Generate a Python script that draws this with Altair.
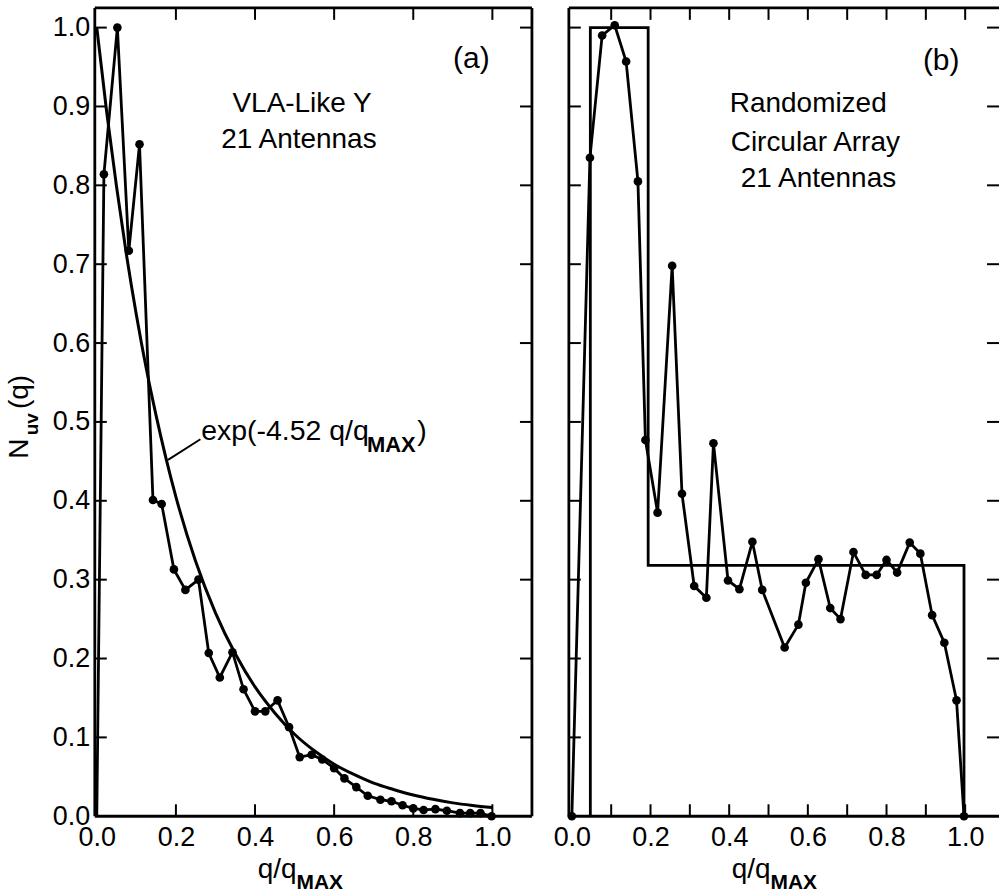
import altair as alt
import pandas as pd

# ---------------- data ----------------
# panel (a): VLA-like Y, 21 antennas
qa = [0.0, 0.018, 0.052, 0.081, 0.108, 0.142, 0.164, 0.195, 0.224, 0.257, 0.283, 0.311,
      0.343, 0.371, 0.400, 0.426, 0.457, 0.486, 0.513, 0.543, 0.570, 0.600, 0.626, 0.656,
      0.685, 0.717, 0.745, 0.773, 0.800, 0.826, 0.856, 0.885, 0.918, 0.944, 0.970, 0.998]
na = [0.0, 0.814, 1.0, 0.717, 0.852, 0.401, 0.396, 0.313, 0.287, 0.300, 0.207, 0.176,
      0.208, 0.161, 0.133, 0.133, 0.147, 0.113, 0.075, 0.078, 0.072, 0.061, 0.048, 0.037,
      0.026, 0.021, 0.019, 0.014, 0.010, 0.008, 0.009, 0.007, 0.004, 0.004, 0.004, 0.0]

# smooth reference curve exp(-4.52 q/qMAX)
exp_q = [0.0, 0.025, 0.05, 0.075, 0.1, 0.125, 0.15, 0.2, 0.25, 0.3, 0.35, 0.4, 0.45, 0.5,
         0.55, 0.6, 0.65, 0.7, 0.75, 0.8, 0.85, 0.9, 0.95, 1.0]
exp_n = [1.0, 0.893, 0.798, 0.712, 0.636, 0.568, 0.508, 0.405, 0.323, 0.258, 0.206, 0.164,
         0.131, 0.104, 0.083, 0.066, 0.053, 0.042, 0.034, 0.027, 0.0215, 0.017, 0.0137, 0.011]

# panel (b): randomized circular array, 21 antennas
qb = [0.0, 0.046, 0.077, 0.109, 0.138, 0.168, 0.187, 0.218, 0.255, 0.280, 0.311, 0.342,
      0.360, 0.397, 0.426, 0.459, 0.484, 0.541, 0.576, 0.595, 0.627, 0.657, 0.683, 0.716,
      0.747, 0.775, 0.800, 0.827, 0.859, 0.886, 0.916, 0.947, 0.978, 0.997]
nb = [0.0, 0.835, 0.990, 1.003, 0.957, 0.805, 0.477, 0.385, 0.698, 0.409, 0.292, 0.277,
      0.473, 0.299, 0.288, 0.348, 0.287, 0.214, 0.243, 0.296, 0.326, 0.264, 0.250, 0.335,
      0.306, 0.306, 0.325, 0.309, 0.347, 0.333, 0.255, 0.220, 0.147, 0.0]

step_q = [0.047, 0.047, 0.194, 0.194, 0.997, 0.997]
step_n = [0.0, 1.0, 1.0, 0.318, 0.318, 0.0]

x_labels = [0.0, 0.2, 0.4, 0.6, 0.8, 1.0]
y_labels = [0.0, 0.1, 0.2, 0.3, 0.4, 0.5, 0.6, 0.7, 0.8, 0.9, 1.0]
x_ticks_a = [0.2, 0.4, 0.6, 0.8, 1.0]
x_ticks_b = [0.1, 0.2, 0.3, 0.4, 0.5, 0.6, 0.7, 0.8, 0.9, 1.0]
y_ticks = [0.1, 0.2, 0.3, 0.4, 0.5, 0.6, 0.7, 0.8, 0.9, 1.0]

FONT = "Liberation Sans"
W_A, W_B, H = 438, 431, 810
TICK = 12
Y_DOM = [0.0, 1.025]


def make_panel(width, x_dom, q, n, xticks, show_y, extra_layers_fn, first_dot):
    xs = alt.Scale(domain=x_dom, nice=False, zero=False)
    ys = alt.Scale(domain=Y_DOM, nice=False, zero=False)
    x_axis = alt.Axis(values=x_labels, format=".1f", ticks=False, domain=False, grid=False,
                      labelFont=FONT, labelFontSize=27, labelColor="black", labelPadding=8,
                      labelFlush=False, labelOverlap=False)
    y_axis = (alt.Axis(values=y_labels, format=".1f", ticks=False, domain=False, grid=False,
                       labelFont=FONT, labelFontSize=27, labelColor="black", labelPadding=5,
                       labelFlush=False, labelOverlap=False)
              if show_y else None)

    def X(f="q"):
        return alt.X(f"{f}:Q", scale=xs, axis=x_axis, title=None)

    def Y(f="n"):
        return alt.Y(f"{f}:Q", scale=ys, axis=y_axis, title=None)

    df = pd.DataFrame({"q": q, "n": n, "i": list(range(len(q)))})
    line = alt.Chart(df).mark_line(color="black", strokeWidth=2.8).encode(
        x=X(), y=Y(), order="i:Q")
    pts_df = df if first_dot else df[df["q"] > 0]
    pts = alt.Chart(pts_df).mark_circle(color="black", size=75, opacity=1).encode(x=X(), y=Y())

    # frame
    frame_left = alt.Chart().mark_rule(color="black", strokeWidth=2.8).encode(
        x=alt.value(0), y=alt.value(0), y2=alt.value(H))
    frame_top = alt.Chart().mark_rule(color="black", strokeWidth=2.8).encode(
        x=alt.value(0), x2=alt.value(width), y=alt.value(0))
    frame_bot = alt.Chart().mark_rule(color="black", strokeWidth=2.8).encode(
        x=alt.value(0), x2=alt.value(width), y=alt.value(H))

    # inward ticks
    xt = pd.DataFrame({"t": xticks})
    yt = pd.DataFrame({"t": y_ticks})
    t_bot = alt.Chart(xt).mark_rule(color="black", strokeWidth=2).encode(
        x=X("t"), y=alt.value(H), y2=alt.value(H - TICK))
    t_top = alt.Chart(xt).mark_rule(color="black", strokeWidth=2).encode(
        x=X("t"), y=alt.value(0), y2=alt.value(TICK))
    t_left = alt.Chart(yt).mark_rule(color="black", strokeWidth=2).encode(
        y=Y("t"), x=alt.value(0), x2=alt.value(TICK))
    t_right = alt.Chart(yt).mark_rule(color="black", strokeWidth=2).encode(
        y=Y("t"), x=alt.value(width), x2=alt.value(width - TICK))

    # x-axis title q/q_MAX
    xt1 = alt.Chart(pd.DataFrame({"q": [0.505], "s": ["q/q"]})).mark_text(
        font=FONT, fontSize=28, align="right", baseline="alphabetic", color="black").encode(
        x=X(), y=alt.value(872), text="s:N")
    xt2 = alt.Chart(pd.DataFrame({"q": [0.505], "s": ["MAX"]})).mark_text(
        font=FONT, fontSize=21, fontWeight="bold", align="left", baseline="alphabetic",
        color="black").encode(x=X(), y=alt.value(883), text="s:N")

    layers = [line, pts, frame_left, frame_top, frame_bot, t_bot, t_top, t_left, t_right,
              xt1, xt2] + extra_layers_fn(X, Y)
    return alt.layer(*layers).properties(width=width, height=H)


def extras_a(X, Y):
    edf = pd.DataFrame({"q": exp_q, "n": exp_n})
    curve = alt.Chart(edf).mark_line(color="black", strokeWidth=3, interpolate="monotone").encode(
        x=X(), y=Y())
    frame_right = alt.Chart().mark_rule(color="black", strokeWidth=2.8).encode(
        x=alt.value(W_A), y=alt.value(0), y2=alt.value(H))
    leader = alt.Chart(pd.DataFrame({"q": [0.18, 0.262], "n": [0.452, 0.478]})).mark_line(
        color="black", strokeWidth=2).encode(x=X(), y=Y())
    t1 = alt.Chart(pd.DataFrame({"q": [0.264], "n": [0.477], "s": ["exp(-4.52 q/q"]})).mark_text(
        font=FONT, fontSize=28.5, align="left", baseline="alphabetic", color="black").encode(
        x=X(), y=Y(), text="s:N")
    t2 = alt.Chart(pd.DataFrame({"q": [0.683], "n": [0.462], "s": ["MAX"]})).mark_text(
        font=FONT, fontSize=22, fontWeight="bold", align="left", baseline="alphabetic",
        color="black").encode(x=X(), y=Y(), text="s:N")
    t3 = alt.Chart(pd.DataFrame({"q": [0.810], "n": [0.477], "s": [")"]})).mark_text(
        font=FONT, fontSize=28.5, align="left", baseline="alphabetic", color="black").encode(
        x=X(), y=Y(), text="s:N")
    lab_big = alt.Chart(pd.DataFrame({"q": [0.947], "n": [0.96], "s": ["(a)"]})).mark_text(
        font=FONT, fontSize=30, align="center", baseline="middle", color="black").encode(
        x=X(), y=Y(), text="s:N")
    lab = alt.Chart(pd.DataFrame({"q": [0.519, 0.511], "n": [0.903, 0.857],
                                  "s": ["VLA-Like Y", "21 Antennas"]})).mark_text(
        font=FONT, fontSize=28, align="center", baseline="middle", color="black").encode(
        x=X(), y=Y(), text="s:N")
    # y-axis title N_uv(q)
    yN = alt.Chart(pd.DataFrame({"n": [0.466], "s": ["N"]})).mark_text(
        font=FONT, fontSize=28, angle=270, align="center", baseline="middle", color="black").encode(
        x=alt.value(-75), y=Y(), text="s:N")
    yuv = alt.Chart(pd.DataFrame({"n": [0.497], "s": ["uv"]})).mark_text(
        font=FONT, fontSize=19, fontWeight="bold", angle=270, align="center", baseline="middle",
        color="black").encode(x=alt.value(-63), y=Y(), text="s:N")
    yq = alt.Chart(pd.DataFrame({"n": [0.538], "s": ["(q)"]})).mark_text(
        font=FONT, fontSize=28, angle=270, align="center", baseline="middle", color="black").encode(
        x=alt.value(-75), y=Y(), text="s:N")
    return [curve, frame_right, leader, t1, t2, t3, lab_big, lab, yN, yuv, yq]


def extras_b(X, Y):
    sdf = pd.DataFrame({"q": step_q, "n": step_n, "i": list(range(len(step_q)))})
    step = alt.Chart(sdf).mark_line(color="black", strokeWidth=2.8).encode(
        x=X(), y=Y(), order="i:Q")
    lab_big = alt.Chart(pd.DataFrame({"q": [0.939], "n": [0.958], "s": ["(b)"]})).mark_text(
        font=FONT, fontSize=30, align="center", baseline="middle", color="black").encode(
        x=X(), y=Y(), text="s:N")
    lab = alt.Chart(pd.DataFrame({"q": [0.601, 0.619, 0.627], "n": [0.903, 0.854, 0.808],
                                  "s": ["Randomized", "Circular Array", "21 Antennas"]})).mark_text(
        font=FONT, fontSize=28, align="center", baseline="middle", color="black").encode(
        x=X(), y=Y(), text="s:N")
    return [step, lab_big, lab]


panel_a = make_panel(W_A, [-0.005, 1.1], qa, na, x_ticks_a, True, extras_a, False)
panel_b = make_panel(W_B, [-0.0076, 1.086], qb, nb, x_ticks_b, False, extras_b, True)

chart = alt.hconcat(panel_a, panel_b, spacing=37, bounds="flush").configure_view(
    stroke=None).properties(padding={"left": 5, "top": 5, "right": 0, "bottom": 0},
                            background="white")

chart.save("out.html", embed_options={"renderer": "svg", "actions": False})
